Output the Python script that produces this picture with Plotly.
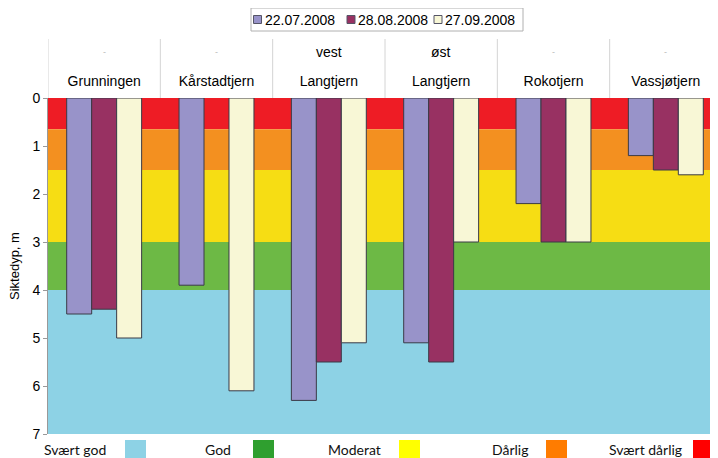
import plotly.graph_objects as go

# ---------------- data ----------------
lakes = ["Grunningen", "Kårstadtjern", "Langtjern", "Langtjern ", "Rokotjern", "Vassjøtjern"]
lake_labels = ["Grunningen", "Kårstadtjern", "Langtjern", "Langtjern", "Rokotjern", "Vassjøtjern"]
lake_prefix = ["-", "-", "vest", "øst", "-", "-"]

dates = ["22.07.2008", "28.08.2008", "27.09.2008"]
d_2207 = [4.5, 3.9, 6.3, 5.1, 2.2, 1.2]
d_2808 = [4.4, None, 5.5, 5.5, 3.0, 1.5]
d_2709 = [5.0, 6.1, 5.1, 3.0, 3.0, 1.6]

class_names = ["Svært dårlig", "Dårlig", "Moderat", "God", "Svært god"]
class_limits = [0, 0.65, 1.5, 3, 4, 7]
y_ticks = [0, 1, 2, 3, 4, 5, 6, 7]

# ---------------- style ----------------
series_colors = ["#9893C9", "#983162", "#F8F7D6"]
band_colors = ["#EE1C25", "#F39020", "#F6DD14", "#6DB945", "#8DD2E5"]
legend_sq_colors = {"Svært god": "#8DD2E5", "God": "#2F9F2F", "Moderat": "#FFFF00",
                    "Dårlig": "#FF7C00", "Svært dårlig": "#FF0000"}

W, H = 718, 458
OFF = 8  # page body margin
ML, MR, MT, MB = 40, 4, 90, 32
PW, PH = W - ML - MR, H - MT - MB


def px_x(p):
    return (p - OFF - ML) / PW


def px_y(p):
    return (H - MB - (p - OFF)) / PH


fig = go.Figure()
for name, vals, col in zip(dates, [d_2207, d_2808, d_2709], series_colors):
    fig.add_trace(go.Bar(
        x=lakes, y=vals, name=name, marker_color=col,
        marker_line=dict(color="#3A3A46", width=1), showlegend=False,
    ))

shapes = []
# quality class bands
for i in range(len(class_names)):
    shapes.append(dict(type="rect", xref="paper", yref="y", x0=0, x1=1,
                       y0=class_limits[i], y1=class_limits[i + 1],
                       fillcolor=band_colors[i], line_width=0, layer="below"))
# header separators
for k in range(len(lakes)):
    shapes.append(dict(type="line", xref="x", yref="paper", x0=k - 0.5, x1=k - 0.5,
                       y0=1, y1=px_y(39), line=dict(color="#D4D4D4", width=1)))

annotations = []
# header upper row
for k, pre in enumerate(lake_prefix):
    annotations.append(dict(xref="x", yref="paper", x=k, y=px_y(52), text=pre,
                            showarrow=False, xanchor="center", yanchor="middle",
                            font=dict(family="Liberation Sans, Arial", size=14 if pre != "-" else 9,
                                      color="#000" if pre != "-" else "#BBBBBB")))

# y-axis title
annotations.append(dict(xref="paper", yref="paper", x=px_x(14), y=0.5, text="Siktedyp, m",
                        textangle=-90, showarrow=False, xanchor="center", yanchor="middle",
                        font=dict(family="Liberation Sans, Arial", size=13, color="#000")))

# top legend (box, squares, text)
shapes.append(dict(type="rect", xref="paper", yref="paper", x0=px_x(251), x1=px_x(523),
                   y0=px_y(8), y1=px_y(31), line=dict(color="#B0B0B0", width=1),
                   fillcolor="white", layer="above"))
sq_x = [253.5, 347, 434]
for name, col, sx in zip(dates, series_colors, sq_x):
    shapes.append(dict(type="rect", xref="paper", yref="paper", x0=px_x(sx), x1=px_x(sx + 8),
                       y0=px_y(15.5), y1=px_y(23.5), fillcolor=col,
                       line=dict(color="#555566", width=1), layer="above"))
    annotations.append(dict(xref="paper", yref="paper", x=px_x(sx + 9), y=px_y(20), text=name,
                            showarrow=False, xanchor="left", yanchor="middle",
                            font=dict(family="Liberation Sans, Arial", size=14, color="#000")))

# bottom legend (quality classes)
bl_text_x = {"Svært god": 75, "God": 218, "Moderat": 354, "Dårlig": 510, "Svært dårlig": 645}
bl_sq_x = {"Svært god": 125, "God": 253, "Moderat": 399, "Dårlig": 546, "Svært dårlig": 693}
for name in ["Svært god", "God", "Moderat", "Dårlig", "Svært dårlig"]:
    annotations.append(dict(xref="paper", yref="paper", x=px_x(bl_text_x[name]), y=px_y(449.5),
                            text=name, showarrow=False, xanchor="center", yanchor="middle",
                            font=dict(family="Lato, Liberation Sans", size=14, color="#111")))
    shapes.append(dict(type="rect", xref="paper", yref="paper", x0=px_x(bl_sq_x[name]),
                       x1=px_x(bl_sq_x[name] + 21), y0=px_y(440), y1=px_y(462),
                       fillcolor=legend_sq_colors[name], line_width=0, layer="above"))

fig.update_layout(
    width=W, height=H, autosize=False,
    margin=dict(l=ML, r=MR, t=MT, b=MB, pad=0),
    paper_bgcolor="white", plot_bgcolor="white",
    barmode="group", bargap=0.333, bargroupgap=0,
    shapes=shapes, annotations=annotations,
    font=dict(family="Liberation Sans, Arial", size=14, color="#000"),
    xaxis=dict(type="category", categoryarray=lakes, side="top", showline=False,
               ticks="", showgrid=False, zeroline=False, tickmode="array",
               tickvals=lakes, ticktext=lake_labels, ticklabelstandoff=8,
               tickfont=dict(size=14), range=[-0.5, 5.5]),
    yaxis=dict(range=[7, 0], tickvals=y_ticks, ticks="outside", ticklen=4,
               tickcolor="#999", showline=True, linecolor="#999", linewidth=1,
               showgrid=False, zeroline=False, tickfont=dict(size=14)),
)

fig.write_html("out.html")
